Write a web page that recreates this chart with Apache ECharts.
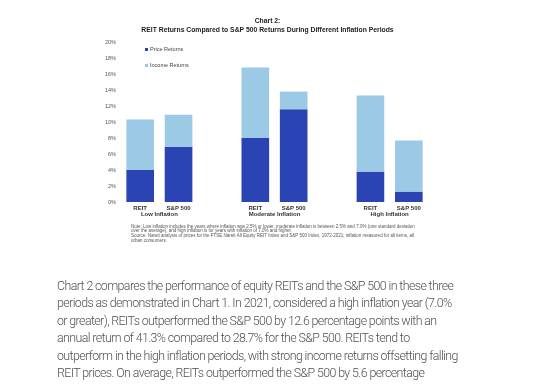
<!DOCTYPE html>
<html>
<head>
<meta charset="utf-8">
<script src="https://cdn.jsdelivr.net/npm/echarts@6/dist/echarts.min.js"></script>
<style>
html,body{margin:0;padding:0;background:#fff;overflow:hidden;}
#wrap{position:relative;width:540px;height:384px;}
#c{position:absolute;left:0;top:0;width:540px;height:384px;}
#para{position:absolute;left:57px;top:277px;font-family:Roboto, sans-serif;font-weight:300;font-size:12.4px;line-height:17.4px;color:#505050;white-space:pre;letter-spacing:-0.6px;}
</style>
</head>
<body>
<div id="wrap">
<div id="c"></div>
<div id="para"></div>
</div>
<script>
var groups = ['Low Inflation', 'Moderate Inflation', 'High Inflation'];
var members = ['REIT', 'S&P 500'];
var priceReturns = [4.0, 6.9, 8.0, 11.6, 3.8, 1.3];
var incomeReturns = [6.3, 4.0, 8.8, 2.2, 9.5, 6.4];
var yTicks = {min: 0, max: 20, interval: 2};
var titleLines = ['Chart 2:', 'REIT Returns Compared to S&P 500 Returns During Different Inflation Periods'];
var noteLines = [
  'Note: Low inflation includes the years where inflation was 2.5% or lower, moderate inflation is between 2.5% and 7.0% (one standard deviation',
  'over the average), and high inflation is for years with inflation of 7.0% and higher.',
  'Source: Nareit analysis of prices for the FTSE Nareit All Equity REIT Index and S&P 500 Index, 1972-2021; inflation measured for all items, all',
  'urban consumers.'
];
var paragraphLines = [
  'Chart 2 compares the performance of equity REITs and the S&P 500 in these three',
  'periods as demonstrated in Chart 1. In 2021, considered a high inflation year (7.0%',
  'or greater), REITs outperformed the S&P 500 by 12.6 percentage points with an',
  'annual return of 41.3% compared to 28.7% for the S&P 500. REITs tend to',
  'outperform in the high inflation periods, with strong income returns offsetting falling',
  'REIT prices. On average, REITs outperformed the S&P 500 by 5.6 percentage'
];

document.getElementById('para').textContent = paragraphLines.join('\n');

// build category slots: members of each group, separated by an empty slot
var cats = [], priceData = [], incomeData = [], groupSlots = [];
var k = 0;
groups.forEach(function (g, gi) {
  var slots = [];
  members.forEach(function (m) {
    cats.push(g + '|' + m);
    priceData.push(priceReturns[k]);
    incomeData.push(incomeReturns[k]);
    slots.push(cats.length - 1);
    k++;
  });
  groupSlots.push(slots);
  if (gi < groups.length - 1) {
    cats.push('gap' + gi);
    priceData.push(null);
    incomeData.push(null);
  }
});

var chart = echarts.init(document.getElementById('c'), null, {renderer: 'canvas'});
var option = {
  animation: false,
  backgroundColor: '#ffffff',
  grid: {left: 121, right: 112, top: 42, bottom: 182, containLabel: false},
  legend: {
    orient: 'vertical',
    left: 145,
    top: 46.5,
    padding: 0,
    itemWidth: 3,
    itemHeight: 3,
    itemGap: 10,
    icon: 'rect',
    textStyle: {fontFamily: 'Liberation Sans, Arial', fontSize: 5.5, color: '#444', padding: [0, 0, 0, -3]},
    data: ['Price Returns', 'Income Returns']
  },
  xAxis: {
    type: 'category',
    data: cats,
    axisLine: {show: false},
    axisTick: {show: false},
    axisLabel: {
      interval: 0,
      margin: 3,
      fontFamily: 'Liberation Sans, Arial',
      fontSize: 6,
      fontWeight: 'bold',
      color: '#333',
      formatter: function (v) { return v.indexOf('|') >= 0 ? v.split('|')[1] : ''; }
    }
  },
  yAxis: {
    type: 'value',
    min: yTicks.min,
    max: yTicks.max,
    interval: yTicks.interval,
    splitLine: {show: false},
    axisLine: {show: false},
    axisTick: {show: false},
    axisLabel: {
      margin: 5,
      fontFamily: 'Liberation Sans, Arial',
      fontSize: 5.5,
      color: '#555',
      formatter: '{value}%'
    }
  },
  series: [
    {name: 'Price Returns', type: 'bar', stack: 'total', barWidth: '72%', data: priceData, itemStyle: {color: '#2a44b3'}},
    {name: 'Income Returns', type: 'bar', stack: 'total', barWidth: '72%', data: incomeData, itemStyle: {color: '#9cc9e5'}}
  ]
};
chart.setOption(option);

var g = [];
g.push({type: 'text', x: 267.5, y: 17.5, style: {text: titleLines.join('\n'), fontFamily: 'Liberation Sans, Arial', fontSize: 6.8, fontWeight: 'bold', fill: '#222', textAlign: 'center', lineHeight: 8.2}});
groupSlots.forEach(function (slots, i) {
  var x0 = chart.convertToPixel({xAxisIndex: 0}, slots[0]);
  var x1 = chart.convertToPixel({xAxisIndex: 0}, slots[slots.length - 1]);
  g.push({type: 'text', x: (x0 + x1) / 2, y: 214.5, style: {text: groups[i], fontFamily: 'Liberation Sans, Arial', fontSize: 6, fontWeight: 'bold', fill: '#333', textAlign: 'center', textVerticalAlign: 'middle'}});
});
noteLines.forEach(function (line, i) {
  g.push({type: 'text', x: 131, y: 226.3 + i * 4.8, style: {text: line, fontFamily: 'Liberation Sans, Arial', fontSize: 4.5, fill: '#555', textAlign: 'left', textVerticalAlign: 'middle'}});
});
chart.setOption({graphic: g});
</script>
</body>
</html>
